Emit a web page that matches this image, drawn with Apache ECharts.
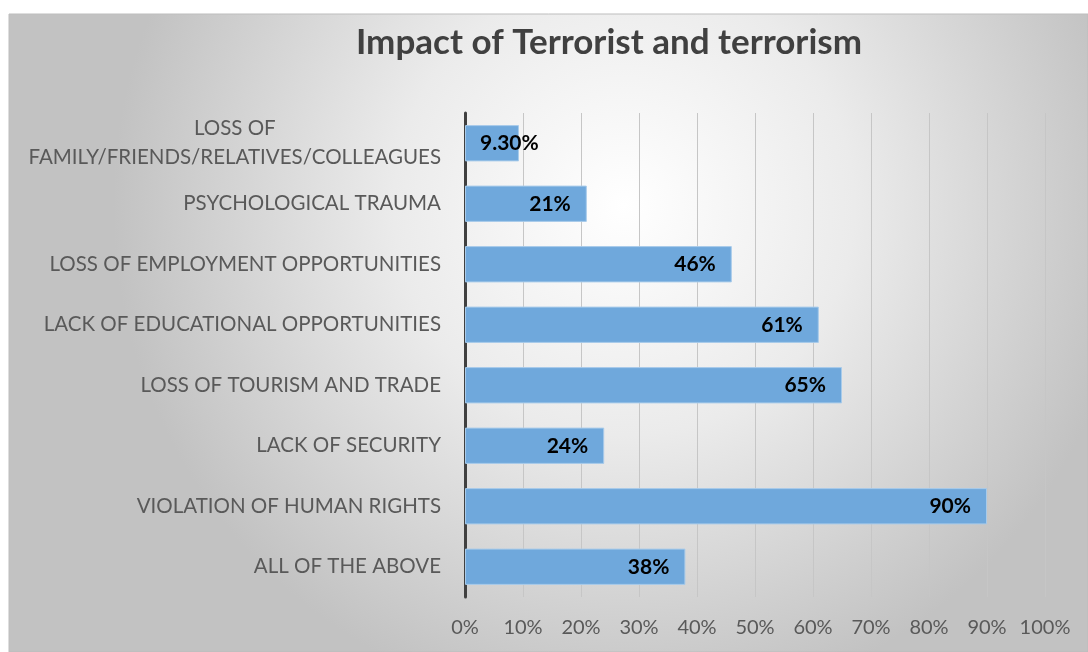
<!DOCTYPE html>
<html>
<head>
<meta charset="utf-8">
<script src="https://cdn.jsdelivr.net/npm/echarts@6/dist/echarts.min.js"></script>
<style>
  html, body { margin: 0; padding: 0; background: #fff; }
  #main { width: 1088px; height: 652px; }
</style>
</head>
<body>
<div id="main"></div>
<script>
// data
var categories = [
  'LOSS OF\nFAMILY/FRIENDS/RELATIVES/COLLEAGUES',
  'PSYCHOLOGICAL TRAUMA',
  'LOSS OF EMPLOYMENT OPPORTUNITIES',
  'LACK OF EDUCATIONAL OPPORTUNITIES',
  'LOSS OF TOURISM AND TRADE',
  'LACK OF SECURITY',
  'VIOLATION OF HUMAN RIGHTS',
  'ALL OF THE ABOVE'
];
var values = [9.3, 21, 46, 61, 65, 24, 90, 38];
var valueLabels = ['9.30%', '21%', '46%', '61%', '65%', '24%', '90%', '38%'];
var xTicks = ['0%', '10%', '20%', '30%', '40%', '50%', '60%', '70%', '80%', '90%', '100%'];

var font = 'Lato, "Open Sans", sans-serif';

var seriesData = values.map(function (v, i) {
  var item = { value: v };
  // label is wider than the short bar: Excel pushes it to start of bar
  if (v < 15) {
    item.label = { position: 'insideLeft', distance: 15 };
  }
  return item;
});

var option = {
  backgroundColor: 'transparent',
  animation: false,
  graphic: [{
    type: 'rect',
    z: -10,
    silent: true,
    shape: { x: 9, y: 14, width: 1079, height: 638 },
    style: {
      fill: new echarts.graphic.RadialGradient(0.57, 0.3, 0.8, [
        { offset: 0, color: '#ffffff' },
        { offset: 0.45, color: '#ebebeb' },
        { offset: 1, color: '#c2c2c2' }
      ]),
      stroke: '#bdbdbd',
      lineWidth: 1
    }
  }],
  title: {
    text: 'Impact of Terrorist and terrorism',
    left: 604,
    top: 20,
    textAlign: 'center',
    textStyle: {
      fontFamily: font,
      fontSize: 35,
      fontWeight: 'bold',
      color: '#404040'
    }
  },
  grid: {
    left: 465,
    right: 43,
    top: 113,
    bottom: 55,
    containLabel: false
  },
  xAxis: {
    type: 'value',
    min: 0,
    max: 100,
    interval: 10,
    axisLine: { show: false },
    axisTick: { show: false },
    axisLabel: {
      margin: 21,
      fontFamily: font,
      fontSize: 20,
      color: '#595959',
      formatter: function (v) { return xTicks[Math.round(v / 10)]; }
    },
    splitLine: { lineStyle: { color: '#c6c6c6', width: 1 } }
  },
  yAxis: {
    type: 'category',
    inverse: true,
    data: categories,
    axisLine: { lineStyle: { color: '#404040', width: 3 } },
    axisTick: { show: false },
    axisLabel: {
      margin: 24,
      fontFamily: font,
      fontSize: 20.5,
      color: '#595959',
      formatter: function (v, i) {
        if (v.indexOf('\n') >= 0) {
          return v.split('\n').map(function (s) { return '{c|' + s + '}'; }).join('\n');
        }
        return v;
      },
      rich: {
        c: {
          align: 'center',
          fontFamily: font,
          fontSize: 20.5,
          color: '#595959',
          lineHeight: 29
        }
      }
    }
  },
  series: [{
    type: 'bar',
    data: seriesData,
    barCategoryGap: '40%',
    itemStyle: {
      color: '#6fa8dc',
      borderColor: '#a8cbea',
      borderWidth: 1
    },
    label: {
      show: true,
      position: 'insideRight',
      distance: 16,
      fontFamily: font,
      fontSize: 21,
      fontWeight: 'bold',
      color: '#000000',
      formatter: function (p) { return valueLabels[p.dataIndex]; }
    }
  }]
};

var chart = echarts.init(document.getElementById('main'));
chart.setOption(option);
</script>
</body>
</html>
